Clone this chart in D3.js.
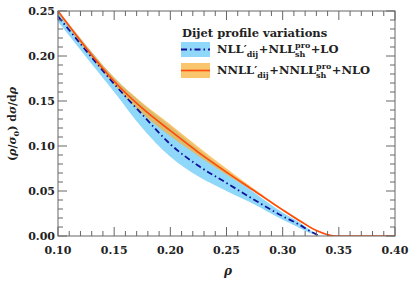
<!DOCTYPE html>
<html><head><meta charset="utf-8">
<script src="https://cdn.jsdelivr.net/npm/d3@7"></script>
<style>body{margin:0;background:#fff}</style>
</head><body>
<svg id="c" width="415" height="283"></svg>
<script>
// ---- data ----
const xTicks = [0.10, 0.15, 0.20, 0.25, 0.30, 0.35, 0.40];
const yTicks = [0.00, 0.05, 0.10, 0.15, 0.20, 0.25];

const orangeRho     = [0.10, 0.125, 0.15, 0.175, 0.20, 0.225, 0.25, 0.275, 0.30, 0.315, 0.33, 0.34, 0.345, 0.35, 0.40];
const orangeCentral = [0.250, 0.209, 0.172, 0.142, 0.117, 0.093, 0.071, 0.050, 0.029, 0.017, 0.006, 0.0015, 0.0002, 0, 0];
const orangeLow     = [0.248, 0.206, 0.168, 0.136, 0.111, 0.089, 0.068, 0.049, 0.028, 0.016, 0.006, 0.0015, 0.0002, 0, 0];
const orangeHigh    = [0.251, 0.212, 0.176, 0.148, 0.124, 0.099, 0.075, 0.052, 0.030, 0.018, 0.007, 0.0018, 0.0003, 0, 0];

const blueRho     = [0.10, 0.125, 0.15, 0.175, 0.20, 0.225, 0.25, 0.275, 0.30, 0.315, 0.325, 0.333];
const blueCentral = [0.244, 0.206, 0.169, 0.135, 0.102, 0.078, 0.059, 0.040, 0.022, 0.0125, 0.005, 0];
const blueLow     = [0.238, 0.199, 0.160, 0.120, 0.088, 0.066, 0.050, 0.035, 0.018, 0.009, 0.003, 0];
const blueHigh    = [0.250, 0.212, 0.176, 0.147, 0.122, 0.096, 0.072, 0.048, 0.026, 0.015, 0.006, 0];

const legendTitle = "Dijet profile variations";

// ---- layout ----
const svg = d3.select("#c");
const L = 58, R = 395, T = 11, B = 236;
const x = d3.scaleLinear().domain([0.10, 0.40]).range([L, R]);
const y = d3.scaleLinear().domain([0, 0.25]).range([B, T]);
const FONT = "'DejaVu Serif', 'Liberation Serif', serif";

svg.append("defs").append("clipPath").attr("id", "clip")
  .append("rect").attr("x", L).attr("y", T).attr("width", R - L).attr("height", B - T);
const g = svg.append("g").attr("clip-path", "url(#clip)");

const curve = d3.curveMonotoneX;
const blueData = blueRho.map((r, i) => ({r, c: blueCentral[i], lo: blueLow[i], hi: blueHigh[i]}));
const orangeData = orangeRho.map((r, i) => ({r, c: orangeCentral[i], lo: orangeLow[i], hi: orangeHigh[i]}));

const area = d3.area().x(d => x(d.r)).y0(d => y(d.lo)).y1(d => y(d.hi)).curve(curve);
const line = d3.line().x(d => x(d.r)).y(d => y(d.c)).curve(curve);

g.append("path").datum(blueData).attr("d", area).attr("fill", "#8fd8fa");
g.append("path").datum(orangeData).attr("d", area).attr("fill", "#f7b23c").attr("fill-opacity", 0.75);
g.append("path").datum(blueData).attr("d", line).attr("fill", "none")
  .attr("stroke", "#10109a").attr("stroke-width", 1.8).attr("stroke-dasharray", "6,3,1.5,3");
g.append("path").datum(orangeData).attr("d", line).attr("fill", "none")
  .attr("stroke", "#ff4a0a").attr("stroke-width", 1.6);

// ---- axes ----
const axisColor = "#666";
const minorX = d3.range(0.10, 0.4001, 0.01);
const minorY = d3.range(0, 0.2501, 0.01);
const ticks = svg.append("g").attr("stroke", axisColor).attr("stroke-width", 1);
minorX.forEach(v => {
  const major = xTicks.some(t => Math.abs(t - v) < 1e-6);
  const len = major ? 9 : 5;
  ticks.append("line").attr("x1", x(v)).attr("x2", x(v)).attr("y1", B).attr("y2", B - len);
  ticks.append("line").attr("x1", x(v)).attr("x2", x(v)).attr("y1", T).attr("y2", T + len);
});
minorY.forEach(v => {
  const major = yTicks.some(t => Math.abs(t - v) < 1e-6);
  const len = major ? 9 : 5;
  ticks.append("line").attr("y1", y(v)).attr("y2", y(v)).attr("x1", L).attr("x2", L + len);
  ticks.append("line").attr("y1", y(v)).attr("y2", y(v)).attr("x1", R).attr("x2", R - len);
});
svg.append("rect").attr("x", L).attr("y", T).attr("width", R - L).attr("height", B - T)
  .attr("fill", "none").attr("stroke", axisColor).attr("stroke-width", 1);

const fmt = d3.format(".2f");
svg.append("g").selectAll("text").data(xTicks).join("text")
  .attr("x", d => x(d)).attr("y", 254).attr("text-anchor", "middle")
  .attr("font-family", FONT).attr("font-weight", "bold").attr("font-size", 11)
  .attr("fill", "#222").text(fmt);
svg.append("g").selectAll("text").data(yTicks).join("text")
  .attr("x", 55).attr("y", d => y(d) + 4).attr("text-anchor", "end")
  .attr("font-family", FONT).attr("font-weight", "bold").attr("font-size", 11)
  .attr("fill", "#222").text(fmt);

// axis titles
svg.append("text").attr("x", 228).attr("y", 275).attr("text-anchor", "middle")
  .attr("font-family", FONT).attr("font-style", "italic").attr("font-weight", "bold")
  .attr("font-size", 12).attr("fill", "#222").text("ρ");
const yl = svg.append("text").attr("transform", "translate(16,124) rotate(-90)")
  .attr("text-anchor", "middle").attr("font-family", FONT).attr("font-weight", "bold")
  .attr("font-size", 11).attr("fill", "#222");
yl.append("tspan").text("(");
yl.append("tspan").attr("font-style", "italic").text("ρ");
yl.append("tspan").text("/");
yl.append("tspan").attr("font-style", "italic").text("σ");
yl.append("tspan").attr("font-size", 8).attr("dy", 3).text("0");
yl.append("tspan").attr("dy", -3).text(") d");
yl.append("tspan").attr("font-style", "italic").text("σ");
yl.append("tspan").text("/d");
yl.append("tspan").attr("font-style", "italic").text("ρ");

// ---- legend ----
const lg = svg.append("g");
lg.append("text").attr("x", 182).attr("y", 37).attr("font-family", FONT).attr("font-weight", "bold")
  .attr("font-size", 11.5).attr("fill", "#222").text(legendTitle);

function richText(x0, yb, parts) {
  let cx = x0;
  parts.forEach(p => {
    if (p.t) {
      const t = lg.append("text").attr("x", cx).attr("y", yb).attr("font-family", FONT)
        .attr("font-weight", "bold").attr("font-size", 11.5).attr("fill", "#222").text(p.t);
      cx += t.node().getComputedTextLength();
    } else {
      let w = 0;
      if (p.sup) {
        const s = lg.append("text").attr("x", cx).attr("y", yb - 5).attr("font-family", FONT)
          .attr("font-weight", "bold").attr("font-size", 8).attr("fill", "#222").text(p.sup);
        w = Math.max(w, s.node().getComputedTextLength());
      }
      if (p.sub) {
        const s = lg.append("text").attr("x", cx).attr("y", yb + 3.5).attr("font-family", FONT)
          .attr("font-weight", "bold").attr("font-size", 8).attr("fill", "#222").text(p.sub);
        w = Math.max(w, s.node().getComputedTextLength());
      }
      cx += w + 0.5;
    }
  });
}

// entry 1
lg.append("rect").attr("x", 181).attr("y", 42).attr("width", 29).attr("height", 15).attr("fill", "#8fd8fa");
lg.append("line").attr("x1", 181).attr("x2", 210).attr("y1", 49.5).attr("y2", 49.5)
  .attr("stroke", "#10109a").attr("stroke-width", 1.8).attr("stroke-dasharray", "6,3,1.5,3");
richText(217, 53, [{t: "NLL′"}, {sub: "dij"}, {t: "+NLL"}, {sup: "pro", sub: "sh"}, {t: "+LO"}]);

// entry 2
lg.append("rect").attr("x", 181).attr("y", 63).attr("width", 29).attr("height", 15)
  .attr("fill", "#f7b23c").attr("fill-opacity", 0.75);
lg.append("line").attr("x1", 181).attr("x2", 210).attr("y1", 70.5).attr("y2", 70.5)
  .attr("stroke", "#ff4a0a").attr("stroke-width", 1.6);
richText(217, 74, [{t: "NNLL′"}, {sub: "dij"}, {t: "+NNLL"}, {sup: "pro", sub: "sh"}, {t: "+NLO"}]);
</script>
</body></html>
